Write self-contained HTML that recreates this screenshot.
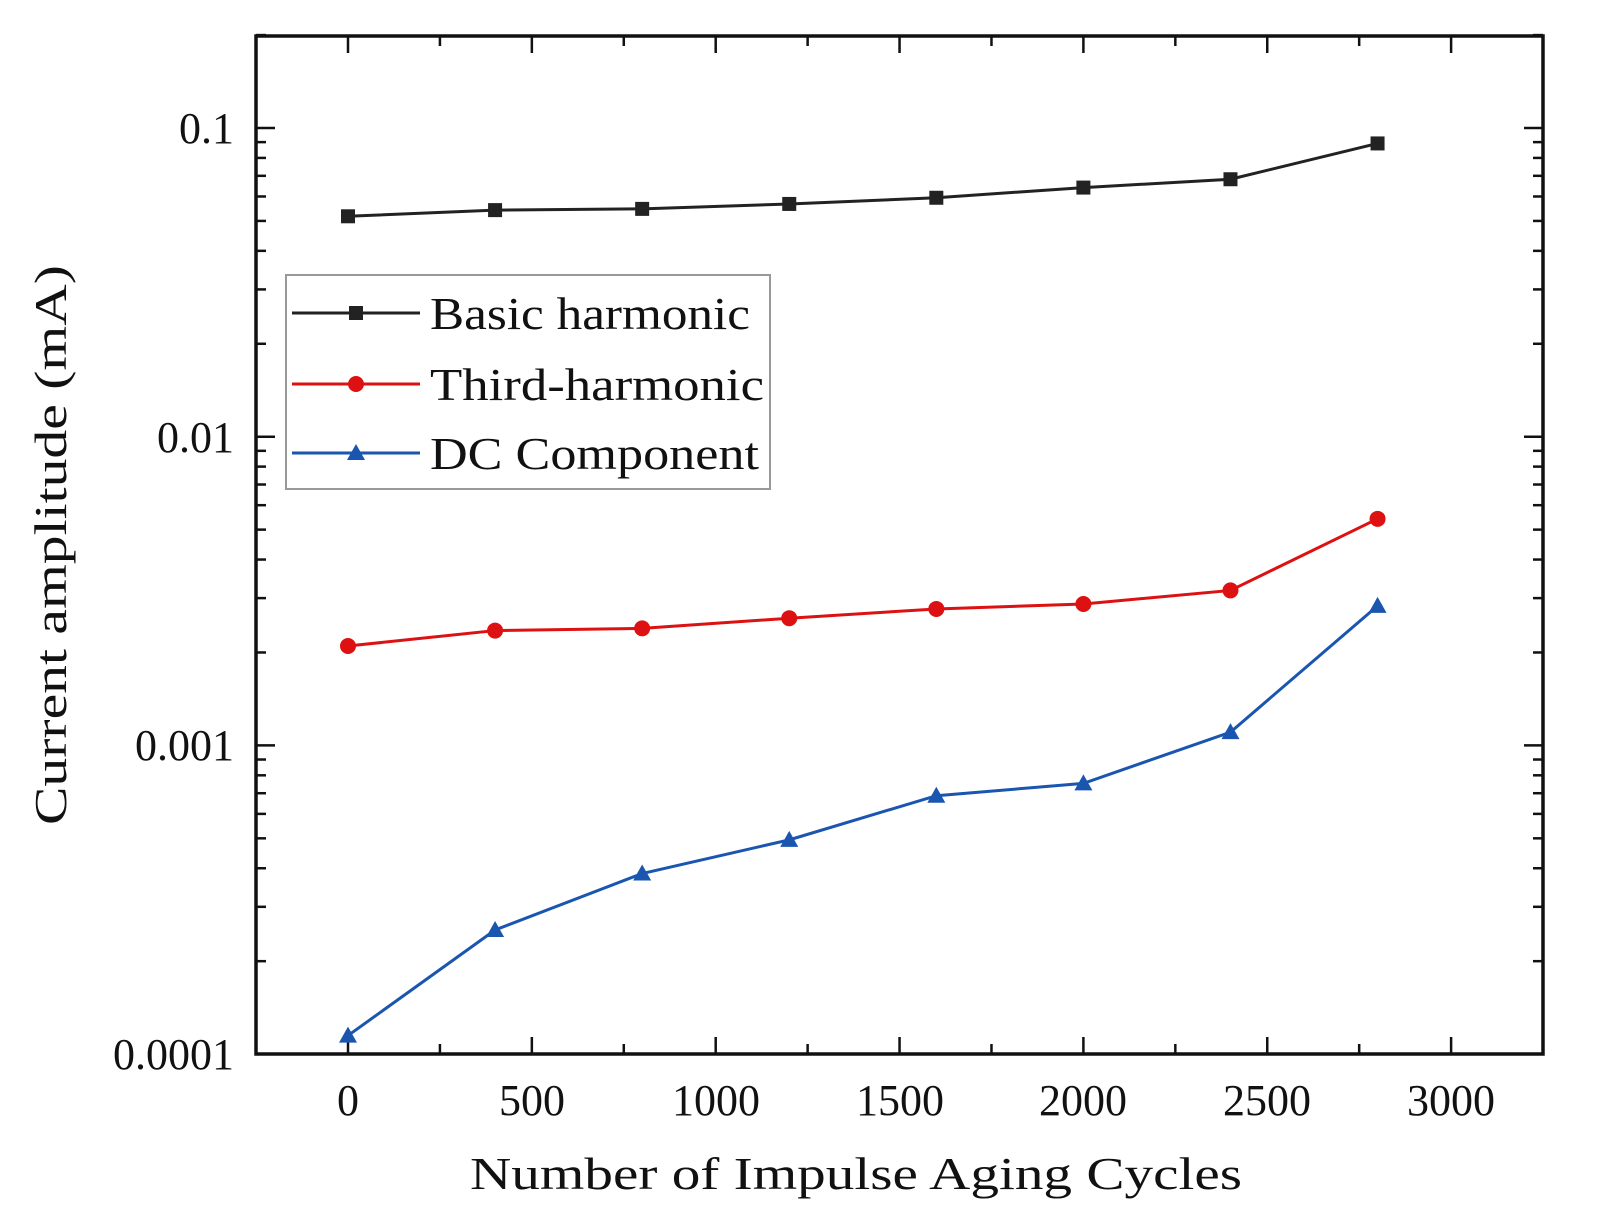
<!DOCTYPE html>
<html><head><meta charset="utf-8"><style>html,body{margin:0;padding:0;background:#fff}svg{display:block}</style></head>
<body>
<svg id="s" width="1604" height="1219" viewBox="0 0 1604 1219" font-family="Liberation Serif, serif" fill="#111">
<rect x="256" y="36" width="1287" height="1018" fill="none" stroke="#111" stroke-width="3.5"/>
<g id="ticks" stroke="#111" stroke-width="2.5"></g>
<g font-size="44" text-anchor="end">
<text x="234" y="143">0.1</text>
<text x="234" y="452">0.01</text>
<text x="234" y="760">0.001</text>
<text x="234" y="1069">0.0001</text>
</g>
<g font-size="44" text-anchor="middle">
<text x="348" y="1115">0</text>
<text x="532" y="1115">500</text>
<text x="716" y="1115">1000</text>
<text x="900" y="1115">1500</text>
<text x="1083" y="1115">2000</text>
<text x="1267" y="1115">2500</text>
<text x="1451" y="1115">3000</text>
</g>
<text x="856" y="1189" font-size="46" text-anchor="middle" textLength="772" lengthAdjust="spacingAndGlyphs">Number of Impulse Aging Cycles</text>
<text transform="translate(66,545) rotate(-90)" font-size="46" text-anchor="middle" textLength="560" lengthAdjust="spacingAndGlyphs">Current amplitude (mA)</text>
<g id="data"></g>
<rect x="286" y="275" width="484" height="214" fill="#fff" stroke="#999" stroke-width="2"/>
<line x1="292" y1="313" x2="420" y2="313" stroke="#222" stroke-width="3"/>
<rect x="349" y="306" width="14" height="14" fill="#222"/>
<line x1="292" y1="384" x2="420" y2="384" stroke="#d11" stroke-width="3"/>
<circle cx="356" cy="384" r="8" fill="#d11"/>
<line x1="292" y1="453" x2="420" y2="453" stroke="#1a56b0" stroke-width="3"/>
<polygon points="356,444 365,460 347,460" fill="#1a56b0"/>
<g font-size="46">
<text x="430" y="329" textLength="320" lengthAdjust="spacingAndGlyphs">Basic harmonic</text>
<text x="430" y="400" textLength="334" lengthAdjust="spacingAndGlyphs">Third-harmonic</text>
<text x="430" y="469" textLength="329" lengthAdjust="spacingAndGlyphs">DC Component</text>
</g>
</svg>
<script>
var NS="http://www.w3.org/2000/svg";
function el(p,t,a){var e=document.createElementNS(NS,t);for(var k in a)e.setAttribute(k,a[k]);p.appendChild(e);return e;}
var T=document.getElementById('ticks'),D=document.getElementById('data');
function Y(l){return 128+(-1-l)*308.7;}
function X(v){return 348+v*0.3677;}
for(var d=-4;d<=-1;d++){for(var m=1;m<=9;m++){var y=Y(d+Math.log10(m));if(y<36||y>1054)continue;var L=m==1?19:10;
el(T,'line',{x1:256,y1:y,x2:256+L,y2:y});el(T,'line',{x1:1543,y1:y,x2:1543-L,y2:y});}}
var y=Y(-1+Math.log10(2));el(T,'line',{x1:256,y1:y,x2:266,y2:y});el(T,'line',{x1:1543,y1:y,x2:1533,y2:y});
for(var v=0;v<=3250;v+=250){var x=X(v),L=v%500==0?17:10;el(T,'line',{x1:x,y1:1054,x2:x,y2:1054-L});el(T,'line',{x1:x,y1:36,x2:x,y2:36+L});}
var xs=[0,400,800,1200,1600,2000,2400,2800];
var S=[[-1.286,-1.266,-1.262,-1.246,-1.226,-1.193,-1.166,-1.05],[-2.678,-2.628,-2.621,-2.588,-2.558,-2.542,-2.498,-2.266],[-3.94,-3.598,-3.415,-3.306,-3.163,-3.123,-2.957,-2.548]];
var C=['#222','#d11','#1a56b0'];
S.forEach(function(s,i){var pts=s.map(function(l,j){return X(xs[j])+','+Y(l);}).join(' ');
el(D,'polyline',{points:pts,fill:'none',stroke:C[i],'stroke-width':3});
s.forEach(function(l,j){var x=X(xs[j]),y=Y(l);
if(i==0)el(D,'rect',{x:x-7,y:y-7,width:14,height:14,fill:C[i]});
else if(i==1)el(D,'circle',{cx:x,cy:y,r:8,fill:C[i]});
else el(D,'polygon',{points:x+','+(y-9)+' '+(x+9)+','+(y+7)+' '+(x-9)+','+(y+7),fill:C[i]});});});
</script>
</body></html>
